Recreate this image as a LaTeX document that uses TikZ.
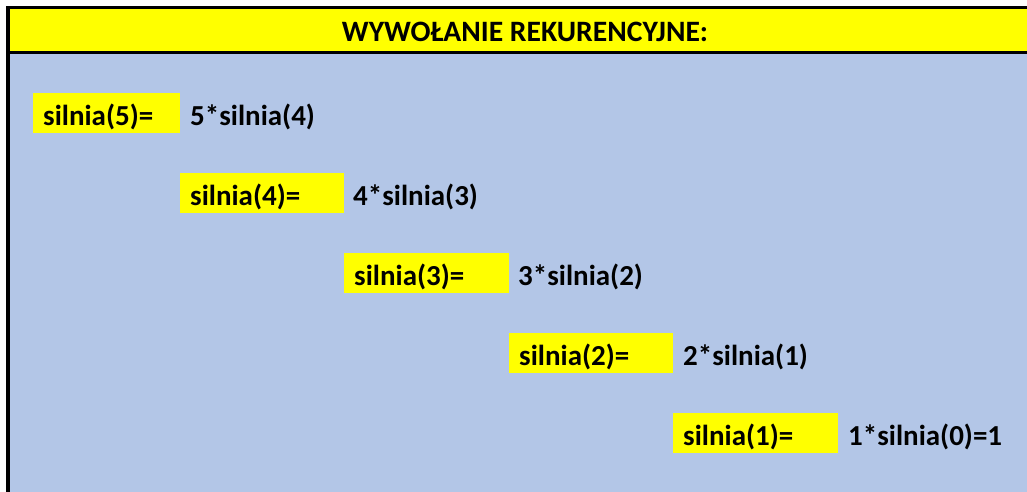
\documentclass[tikz,border=0pt]{standalone}
\usepackage{fontspec}
\setmainfont{Carlito}
\definecolor{bgblue}{HTML}{B3C6E7}
\definecolor{hyellow}{HTML}{FFFF00}
\tikzset{
  lbl/.style={fill=hyellow, anchor=north west, inner xsep=10pt, inner ysep=0pt,
    text height=26pt, text depth=2pt, minimum height=40pt, align=left,
    font=\fontsize{29}{31}\selectfont\bfseries, text=black},
  res/.style={anchor=base west, inner sep=0pt, font=\fontsize{29}{31}\selectfont\bfseries, text=black},
  hdr/.style={anchor=base, inner sep=0pt, font=\fontsize{29.6}{31}\selectfont\bfseries, text=black}
}
\begin{document}
\begin{tikzpicture}[x=1pt,y=-1pt]
\useasboundingbox (0,0) rectangle (1027,492);
\fill[white] (0,0) rectangle (1027,492);
% background
\fill[bgblue] (10,54) rectangle (1027,492);
\fill[hyellow] (10,9) rectangle (1027,51);
% borders
\fill[black] (6,6) rectangle (1027,9);
\fill[black] (6,51) rectangle (1027,54);
\fill[black] (6,6) rectangle (10,492);
% header
\node[hdr] (title) at (525,42) {WYWOŁANIE REKURENCYJNE:};
% rows
\node[lbl, text width=127pt] (s5) at (33,93) {silnia(5)=};
\node[res] (r5) at (190,125) {5*silnia(4)};
\node[lbl, text width=144pt] (s4) at (180,173) {silnia(4)=};
\node[res] (r4) at (353,205) {4*silnia(3)};
\node[lbl, text width=145pt] (s3) at (344,253) {silnia(3)=};
\node[res] (r3) at (518,285) {3*silnia(2)};
\node[lbl, text width=144pt] (s2) at (509,333) {silnia(2)=};
\node[res] (r2) at (683,365) {2*silnia(1)};
\node[lbl, text width=145pt] (s1) at (673,413) {silnia(1)=};
\node[res] (r1) at (848,445) {1*silnia(0)=1};
\end{tikzpicture}
\end{document}
